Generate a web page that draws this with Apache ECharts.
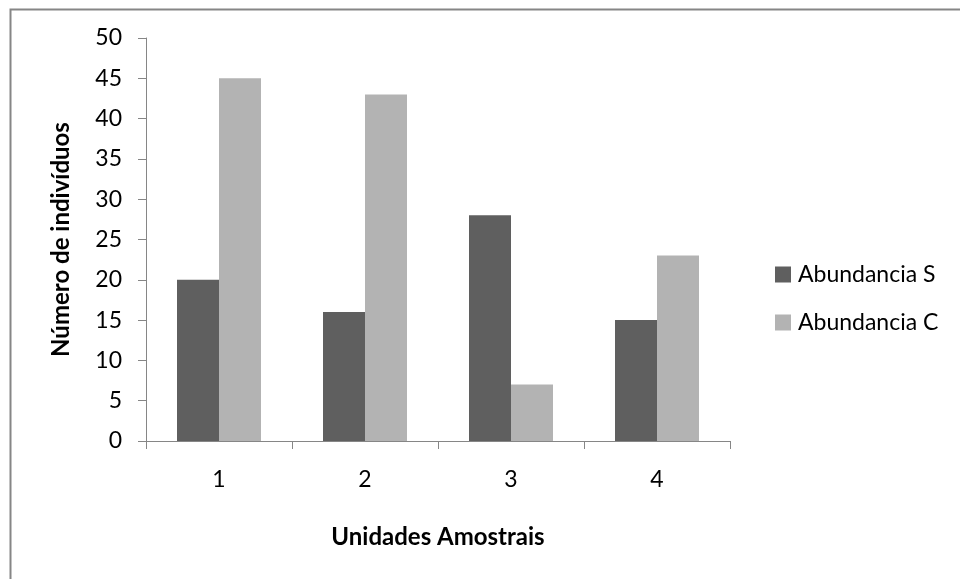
<!DOCTYPE html>
<html><head><meta charset="utf-8">
<script src="https://cdn.jsdelivr.net/npm/echarts@6/dist/echarts.min.js"></script>
<style>html,body{margin:0;padding:0;background:#fff}#c{width:960px;height:579px}</style>
</head><body><div id="c"></div>
<script>
const categories = ['1', '2', '3', '4'];
const abundanciaS = [20, 16, 28, 15];
const abundanciaC = [45, 43, 7, 23];
const seriesNames = ['Abundancia S', 'Abundancia C'];

const chart = echarts.init(document.getElementById('c'));
const font = 'Lato, "Open Sans", sans-serif';
chart.setOption({
  animation: false,
  backgroundColor: '#fff',
  textStyle: { fontFamily: font },
  graphic: [{
    type: 'rect', left: 8, top: 7,
    shape: { width: 1000, height: 700 },
    style: { fill: 'none', stroke: '#868686', lineWidth: 2 },
    silent: true
  }],
  grid: { left: 146, top: 38, width: 584, height: 403, containLabel: false },
  legend: {
    orient: 'vertical', left: 770, top: 258, itemGap: 25,
    itemWidth: 16, itemHeight: 16, icon: 'rect',
    textStyle: { fontSize: 23, color: '#000', fontFamily: font, padding: [0, 0, 0, 2] },
    data: seriesNames
  },
  xAxis: {
    type: 'category', data: categories,
    name: 'Unidades Amostrais', nameLocation: 'middle', nameGap: 84,
    nameTextStyle: { fontSize: 24, fontWeight: 'bold', color: '#000', fontFamily: font },
    axisLine: { lineStyle: { color: '#868686', width: 1 } },
    axisTick: { show: true, length: 8, lineStyle: { color: '#868686' } },
    axisLabel: { fontSize: 23, color: '#000', margin: 27, fontFamily: font }
  },
  yAxis: {
    type: 'value', min: 0, max: 50, interval: 5,
    name: 'Número de indivíduos', nameLocation: 'middle', nameGap: 73,
    nameTextStyle: { fontSize: 24, fontWeight: 'bold', color: '#000', fontFamily: font },
    axisLine: { show: true, lineStyle: { color: '#868686', width: 1 } },
    axisTick: { show: true, length: 8, inside: false, lineStyle: { color: '#868686' } },
    splitLine: { show: false },
    axisLabel: { fontSize: 23, color: '#000', margin: 24, fontFamily: font }
  },
  series: [
    { name: seriesNames[0], type: 'bar', data: abundanciaS, barWidth: 42, barGap: '0%', itemStyle: { color: '#5f5f5f' } },
    { name: seriesNames[1], type: 'bar', data: abundanciaC, barWidth: 42, barGap: '0%', itemStyle: { color: '#b3b3b3' } }
  ]
});
</script></body></html>
